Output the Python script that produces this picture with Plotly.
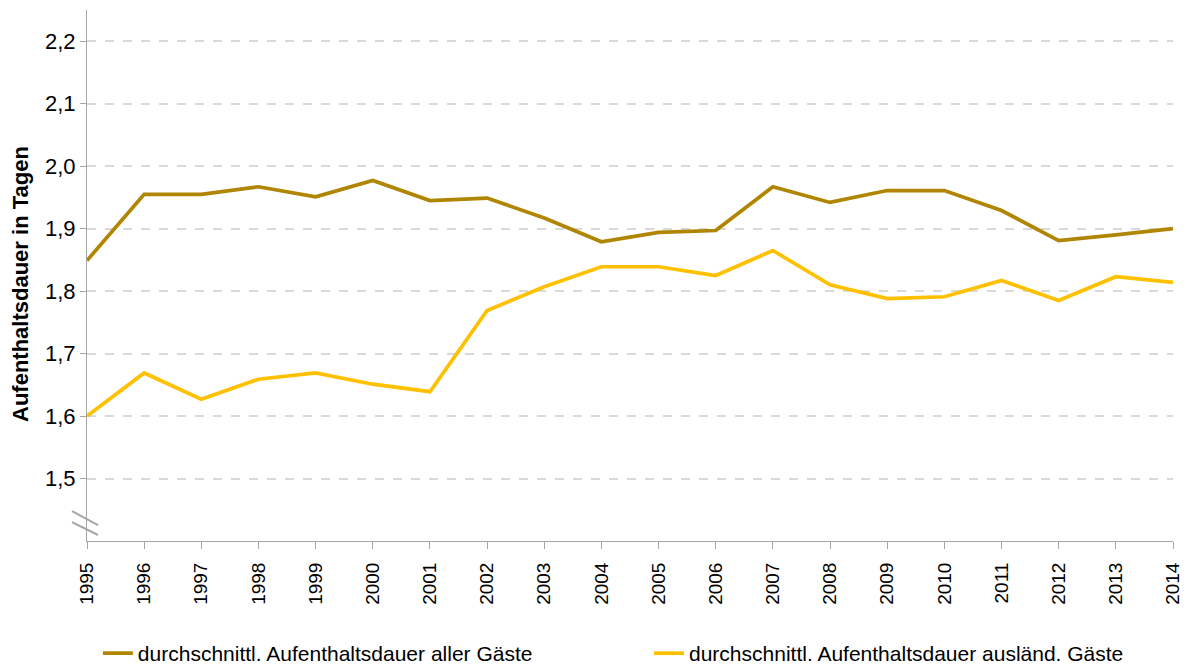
import plotly.graph_objects as go

years = list(range(1995, 2015))
aller_gaeste = [1.849, 1.955, 1.955, 1.967, 1.951, 1.977, 1.945, 1.949, 1.917, 1.879,
                1.894, 1.897, 1.967, 1.942, 1.961, 1.961, 1.929, 1.881, 1.890, 1.900]
auslaend_gaeste = [1.600, 1.669, 1.627, 1.659, 1.669, 1.651, 1.639, 1.769, 1.807, 1.839,
                   1.839, 1.825, 1.865, 1.810, 1.788, 1.791, 1.817, 1.785, 1.823, 1.814]
series_names = ["durchschnittl. Aufenthaltsdauer aller Gäste",
                "durchschnittl. Aufenthaltsdauer ausländ. Gäste"]
y_ticks = [1.5, 1.6, 1.7, 1.8, 1.9, 2.0, 2.1, 2.2]

font_main = "Liberation Sans, Arial, sans-serif"

fig = go.Figure()
fig.add_trace(go.Scatter(x=years, y=aller_gaeste, mode="lines", name=series_names[0],
                         line=dict(color="#B08500", width=3.7), legend="legend"))
fig.add_trace(go.Scatter(x=years, y=auslaend_gaeste, mode="lines", name=series_names[1],
                         line=dict(color="#FFC000", width=3.7), legend="legend2"))

# axis break marks
for y0, y1 in [(1.4 + 30 / 626, 1.4 + 16 / 626), (1.4 + 19 / 626, 1.4 + 6 / 626)]:
    fig.add_shape(type="line", xref="paper", yref="y",
                  x0=-15 / 1086, x1=11 / 1086, y0=y0, y1=y1,
                  line=dict(color="#A6A6A6", width=2))

legend_common = dict(orientation="h", xanchor="left", y=-0.212, yanchor="middle",
                     font=dict(family=font_main, size=21, color="#000000"),
                     bgcolor="rgba(0,0,0,0)")

fig.update_layout(
    width=1190, height=670,
    margin=dict(l=87, r=17, t=10, b=129, autoexpand=False),
    paper_bgcolor="white", plot_bgcolor="white",
    separators=",.",
    font=dict(family=font_main, size=18, color="#000000"),
    showlegend=True,
    legend=dict(x=0.010, **legend_common),
    legend2=dict(x=0.5175, **legend_common),
    xaxis=dict(range=[1995, 2014], tickmode="array", tickvals=years,
               ticktext=[str(y) for y in years], tickangle=-90, automargin=False,
               showgrid=False, zeroline=False, showline=True, linecolor="#A6A6A6", linewidth=1,
               ticks="outside", ticklen=7, tickcolor="#A6A6A6", ticklabelstandoff=6,
               tickfont=dict(family=font_main, size=19, color="#000000")),
    yaxis=dict(range=[1.4, 2.25], tickmode="array", tickvals=y_ticks,
               ticktext=[f"{v:.1f}".replace(".", ",") for v in y_ticks], automargin=False,
               showgrid=True, gridcolor="#D9D9D9", griddash="dash", gridwidth=1.5,
               zeroline=False, showline=True, linecolor="#A6A6A6", linewidth=1,
               ticks="outside", ticklen=6, tickcolor="#A6A6A6",
               tickfont=dict(family=font_main, size=22, color="#000000")),
    annotations=[dict(text="<b>Aufenthaltsdauer in Tagen</b>", xref="paper", yref="paper",
                      x=-66 / 1086, y=0.484, xanchor="center", yanchor="middle", textangle=-90,
                      showarrow=False, font=dict(family=font_main, size=22, color="#000000"))],
)

fig.write_html("out.html", config={"displayModeBar": False},
               post_script="document.body.style.margin='0px';")
